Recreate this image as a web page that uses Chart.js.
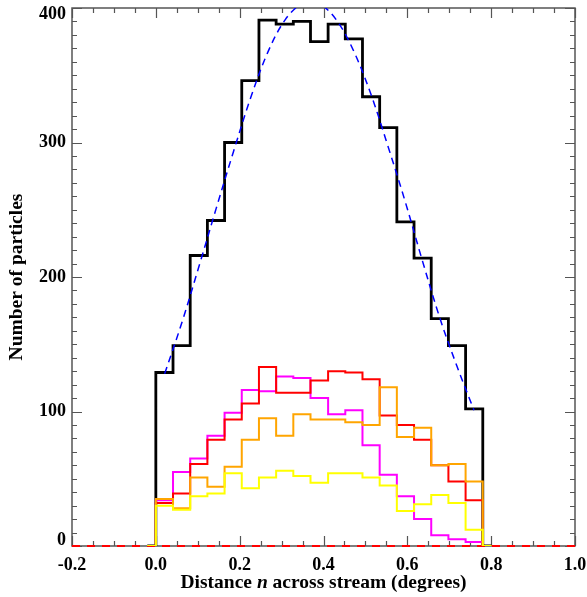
<!DOCTYPE html>
<html>
<head>
<meta charset="utf-8">
<script src="https://cdn.jsdelivr.net/npm/chart.js@4.4.1/dist/chart.umd.min.js"></script>
<style>
  html, body { margin: 0; padding: 0; background: #fff; }
  #wrap { position: relative; width: 587px; height: 597px; }
</style>
</head>
<body>
<div id="wrap"><canvas id="hist"></canvas></div>
<script>
(function () {
  // 19 bins across the stream, 0.00 .. 0.78 deg
  var binEdges = [0.000, 0.041, 0.082, 0.123, 0.164, 0.205, 0.246, 0.287, 0.328, 0.369,
                  0.411, 0.452, 0.493, 0.534, 0.575, 0.616, 0.657, 0.698, 0.739, 0.780];

  var countsAll     = [129, 149, 216, 242, 300, 346, 391, 388, 390, 375, 388, 377, 334, 311, 241, 214, 169, 149, 102];
  var countsMagenta = [34, 55, 65, 82, 99, 116, 115, 126, 125, 110, 98, 101, 75, 53, 37, 20, 8, 5, 3];
  var countsRed     = [32, 39, 61, 79, 94, 106, 133, 114, 114, 123, 130, 129, 124, 97, 90, 79, 60, 48, 34];
  var countsOrange  = [35, 28, 51, 44, 59, 79, 95, 82, 98, 94, 94, 92, 90, 118, 81, 88, 60, 61, 48];
  var countsYellow  = [30, 27, 37, 39, 54, 43, 51, 56, 52, 47, 54, 54, 51, 45, 26, 31, 38, 32, 12];

  // smooth profile, sampled at the bin centres
  var fitX = [0.021, 0.062, 0.103, 0.144, 0.185, 0.226, 0.267, 0.308, 0.349, 0.390,
              0.431, 0.472, 0.513, 0.554, 0.595, 0.636, 0.677, 0.718, 0.759];
  var fitY = [128, 166, 208, 251, 293, 333, 367, 391, 403, 403, 391, 368, 336, 297, 256, 212, 170, 134, 101];

  var xTickValues = [-0.2, 0.0, 0.2, 0.4, 0.6, 0.8, 1.0];
  var yTickValues = [0, 100, 200, 300, 400];

  var SERIF = "'Liberation Serif', 'DejaVu Serif', serif";
  var LABEL_FONT = "bold 18px " + SERIF;
  var TITLE_FONT = "bold 19.5px " + SERIF;
  var AXIS = "#555";
  var halfBin = (binEdges[1] - binEdges[0]) / 2;

  function histPoints(counts) {
    var n = counts.length;
    var pts = [{ x: binEdges[0] - halfBin, y: 0 }];
    for (var i = 0; i < n; i++) pts.push({ x: binEdges[i], y: counts[i] });
    pts.push({ x: binEdges[n], y: 0 });
    pts.push({ x: binEdges[n] + halfBin, y: 0 });
    return pts;
  }

  function histSet(counts, color, width, order) {
    return {
      data: histPoints(counts),
      borderColor: color,
      borderWidth: width,
      stepped: true,
      pointRadius: 0,
      fill: false,
      borderJoinStyle: "miter",
      borderCapStyle: "butt",
      order: order,
    };
  }

  var fitPoints = fitX.map(function (x, i) { return { x: x, y: fitY[i] }; });

  // box round the plot with inward ticks on all four sides
  var framePlugin = {
    id: "frame",
    beforeDatasetsDraw: function (chart) {
      var ctx = chart.ctx;
      var a = chart.chartArea;
      var xs = chart.scales.x;
      var ys = chart.scales.y;
      ctx.save();
      ctx.strokeStyle = AXIS;
      ctx.lineWidth = 1.5;
      ctx.strokeRect(a.left, a.top, a.right - a.left, a.bottom - a.top);
      ctx.lineWidth = 1.2;
      ctx.beginPath();
      var i, v, p, len;
      for (i = 0; i <= 24; i++) {
        v = -0.2 + i * 0.05;
        p = Math.round(xs.getPixelForValue(v)) + 0.5;
        len = i % 4 === 0 ? 10 : 5;
        ctx.moveTo(p, a.bottom); ctx.lineTo(p, a.bottom - len);
        ctx.moveTo(p, a.top); ctx.lineTo(p, a.top + len);
      }
      for (i = 0; i <= 40; i++) {
        v = i * 10;
        p = Math.round(ys.getPixelForValue(v)) + 0.5;
        len = i % 10 === 0 ? 10 : 5;
        ctx.moveTo(a.left, p); ctx.lineTo(a.left + len, p);
        ctx.moveTo(a.right, p); ctx.lineTo(a.right - len, p);
      }
      ctx.stroke();
      ctx.restore();
    },
    afterDraw: function (chart) {
      var ctx = chart.ctx;
      var a = chart.chartArea;
      var ys = chart.scales.y;
      var cx = (a.left + a.right) / 2;
      ctx.save();
      ctx.fillStyle = "#000";
      ctx.textBaseline = "middle";

      // y tick labels, kept inside the axis span at both ends
      ctx.font = LABEL_FONT;
      ctx.textAlign = "right";
      yTickValues.forEach(function (v) {
        var py = ys.getPixelForValue(v);
        py = Math.min(Math.max(py, a.top + 6), a.bottom - 6);
        ctx.fillText(String(v), a.left - 6, py);
      });

      // y title
      ctx.save();
      ctx.translate(17, (a.top + a.bottom) / 2);
      ctx.rotate(-Math.PI / 2);
      ctx.textAlign = "center";
      ctx.font = TITLE_FONT;
      ctx.fillText("Number of particles", 0, 0);
      ctx.restore();

      // x title, with italic n
      var parts = [
        { t: "Distance ", f: TITLE_FONT },
        { t: "n", f: "italic bold 19.5px " + SERIF },
        { t: " across stream (degrees)", f: TITLE_FONT },
      ];
      var total = 0;
      parts.forEach(function (s) { ctx.font = s.f; s.w = ctx.measureText(s.t).width; total += s.w; });
      var x = cx - total / 2;
      ctx.textAlign = "left";
      parts.forEach(function (s) { ctx.font = s.f; ctx.fillText(s.t, x, 583); x += s.w; });
      ctx.restore();
    },
  };

  new Chart(document.getElementById("hist"), {
    type: "line",
    data: {
      datasets: [
        histSet(countsYellow, "#ffff00", 2, 0),
        histSet(countsOrange, "#ffa500", 2, 1),
        histSet(countsRed, "#ff0000", 2, 2),
        histSet(countsMagenta, "#ff00ff", 2, 3),
        {
          data: [{ x: -0.2, y: 0 }, { x: 1.0, y: 0 }],
          borderColor: "#ff0000",
          borderWidth: 2,
          borderDash: [8, 7],
          pointRadius: 0,
          fill: false,
          clip: 3,
          order: 4,
        },
        {
          data: fitPoints,
          borderColor: "#0000ff",
          borderWidth: 1.5,
          borderDash: [7, 5],
          tension: 0.35,
          pointRadius: 0,
          fill: false,
          order: 5,
        },
        histSet(countsAll, "#000000", 2.8, 6),
      ],
    },
    options: {
      responsive: true,
      maintainAspectRatio: false,
      animation: false,
      events: [],
      layout: { padding: { left: 0, right: 12, top: 8, bottom: 0 } },
      plugins: { legend: { display: false }, tooltip: { enabled: false } },
      scales: {
        x: {
          type: "linear",
          min: -0.2,
          max: 1.0,
          grid: { display: false },
          border: { display: false },
          afterBuildTicks: function (scale) {
            scale.ticks = xTickValues.map(function (v) { return { value: v }; });
          },
          afterFit: function (scale) {
            scale.height = 51;
            scale.paddingLeft = 0;
            scale.paddingRight = 0;
          },
          ticks: {
            color: "#000",
            padding: 2,
            maxRotation: 0,
            font: { family: SERIF, size: 18, weight: "bold", lineHeight: 1 },
            callback: function (v) { return (Math.round(v * 10) / 10).toFixed(1); },
          },
        },
        y: {
          type: "linear",
          min: 0,
          max: 400,
          grid: { display: false },
          border: { display: false },
          afterBuildTicks: function (scale) {
            scale.ticks = yTickValues.map(function (v) { return { value: v }; });
          },
          afterFit: function (scale) {
            scale.width = 72;
            scale.paddingTop = 0;
            scale.paddingBottom = 0;
          },
          ticks: { display: false },
        },
      },
    },
    plugins: [framePlugin],
  });
})();
</script>
</body>
</html>
